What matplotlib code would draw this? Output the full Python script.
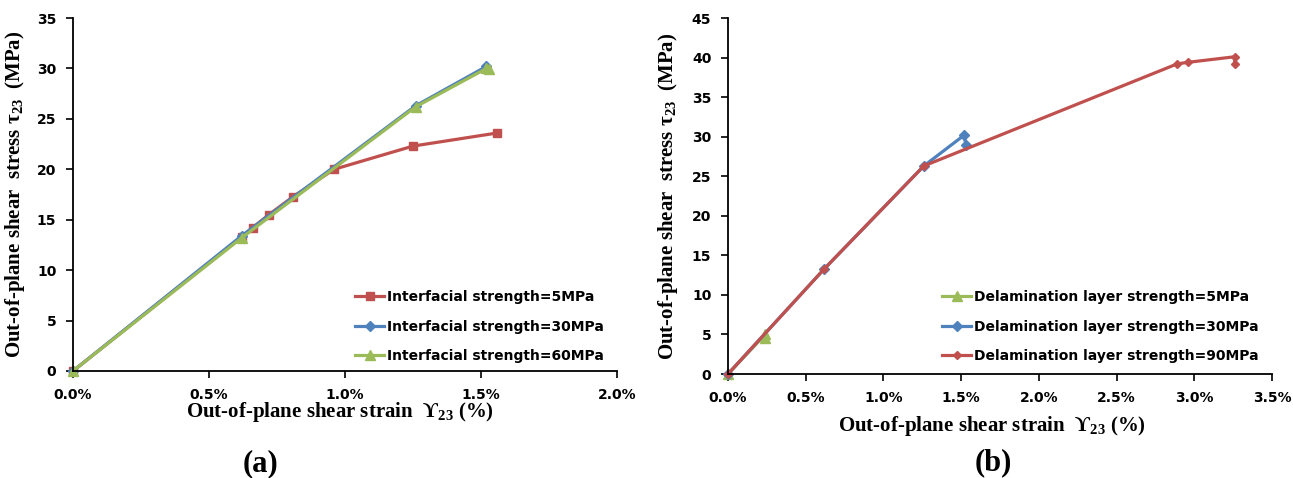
import matplotlib.pyplot as plt
from matplotlib.ticker import PercentFormatter, MultipleLocator

plt.rcParams['mathtext.fontset'] = 'custom'
plt.rcParams['mathtext.rm'] = 'Liberation Serif'
plt.rcParams['mathtext.it'] = 'Liberation Serif:italic'
plt.rcParams['mathtext.bf'] = 'Liberation Serif:bold'

# (a) interfacial strength, strain in %, stress in MPa
a_x_5 = [0.0, 0.62, 0.66, 0.72, 0.81, 0.96, 1.25, 1.56]
a_y_5 = [0.0, 13.3, 14.2, 15.5, 17.3, 20.0, 22.3, 23.6]
a_x_30 = [0.0, 0.62, 1.26, 1.52]
a_y_30 = [0.0, 13.4, 26.3, 30.2]
a_x_60 = [0.0, 0.62, 1.26, 1.52, 1.53]
a_y_60 = [0.0, 13.2, 26.2, 30.0, 29.9]

# (b) delamination layer strength
b_x_5 = [0.0, 0.24, 0.24]
b_y_5 = [0.0, 5.0, 4.6]
b_x_30 = [0.0, 0.62, 1.26, 1.52, 1.53]
b_y_30 = [0.0, 13.3, 26.3, 30.2, 29.0]
b_x_90 = [0.0, 0.62, 1.26, 2.89, 2.96, 3.26, 3.26]
b_y_90 = [0.0, 13.3, 26.3, 39.2, 39.4, 40.1, 39.2]

red = '#C0504D'
blue = '#4F81BD'
green = '#9BBB59'

tickfont = dict(family='DejaVu Sans', weight='bold', size=10)
labfont = dict(family=['Liberation Serif', 'DejaVu Serif'], weight='bold', size=15)
legfont = dict(family='DejaVu Sans', weight='bold', size=10)

W, H = 1293, 478
fig = plt.figure(figsize=(W / 100, H / 100), dpi=100)
ax1 = fig.add_axes([73 / W, 1 - 371 / H, 544 / W, 353 / H])
ax2 = fig.add_axes([728 / W, 1 - 374 / H, 544 / W, 356 / H])

lw = 2.3
ax1.plot(a_x_5, a_y_5, color=red, lw=lw, marker='s', ms=6, label='Interfacial strength=5MPa')
ax1.plot(a_x_30, a_y_30, color=blue, lw=lw, marker='D', ms=5, label='Interfacial strength=30MPa')
ax1.plot(a_x_60, a_y_60, color=green, lw=lw, marker='^', ms=7, label='Interfacial strength=60MPa')

ax2.plot(b_x_5, b_y_5, color=green, lw=lw, marker='^', ms=7, label='Delamination layer strength=5MPa')
ax2.plot(b_x_30, b_y_30, color=blue, lw=lw, marker='D', ms=5, label='Delamination layer strength=30MPa')
ax2.plot(b_x_90, b_y_90, color=red, lw=lw, marker='D', ms=4, label='Delamination layer strength=90MPa')

ax1.set_xlim(0, 2.0)
ax1.set_ylim(0, 35)
ax2.set_xlim(0, 3.5)
ax2.set_ylim(0, 45)

ylab = 'Out-of-plane shear  stress τ$_{\\mathbf{23}}$  (MPa)'
xlab = 'Out-of-plane shear strain  ϒ$_{\\mathbf{23}}$ (%)'

for ax in (ax1, ax2):
    ax.spines['top'].set_visible(False)
    ax.spines['right'].set_visible(False)
    ax.spines['left'].set_linewidth(1.3)
    ax.spines['bottom'].set_linewidth(1.3)
    ax.xaxis.set_major_locator(MultipleLocator(0.5))
    ax.yaxis.set_major_locator(MultipleLocator(5))
    ax.xaxis.set_major_formatter(PercentFormatter(100, decimals=1))
    ax.tick_params(direction='out', length=5, width=1.2, pad=7)
    for t in ax.get_xticklabels() + ax.get_yticklabels():
        t.set_fontproperties(tickfont)
    ax.set_ylabel(ylab, fontdict=labfont)
    ax.set_xlabel(xlab, fontdict=labfont)
    ax.patch.set_alpha(0)
    for l in ax.get_lines():
        l.set_clip_on(False)

ax1.yaxis.set_label_coords(-0.085, 0.5)
ax2.yaxis.set_label_coords(-0.088, 0.5)
ax1.xaxis.set_label_coords(0.49, -0.083)
ax2.xaxis.set_label_coords(0.485, -0.112)

ax1.legend(loc='upper left', bbox_to_anchor=(355 / W, 1 - 290 / H), bbox_transform=fig.transFigure,
           frameon=False, prop=legfont, borderaxespad=0, borderpad=0,
           handlelength=2.1, handletextpad=0.2, labelspacing=1.12)
ax2.legend(loc='upper left', bbox_to_anchor=(942 / W, 1 - 290 / H), bbox_transform=fig.transFigure,
           frameon=False, prop=legfont, borderaxespad=0, borderpad=0,
           handlelength=2.1, handletextpad=0.2, labelspacing=1.12)

capfont = dict(family='Liberation Serif', weight='bold', size=22)
fig.text(260 / W, 1 - 464 / H, '(a)', ha='center', va='center', fontdict=capfont)
fig.text(993 / W, 1 - 463 / H, '(b)', ha='center', va='center', fontdict=capfont)

fig.savefig('out.png', dpi=100)
